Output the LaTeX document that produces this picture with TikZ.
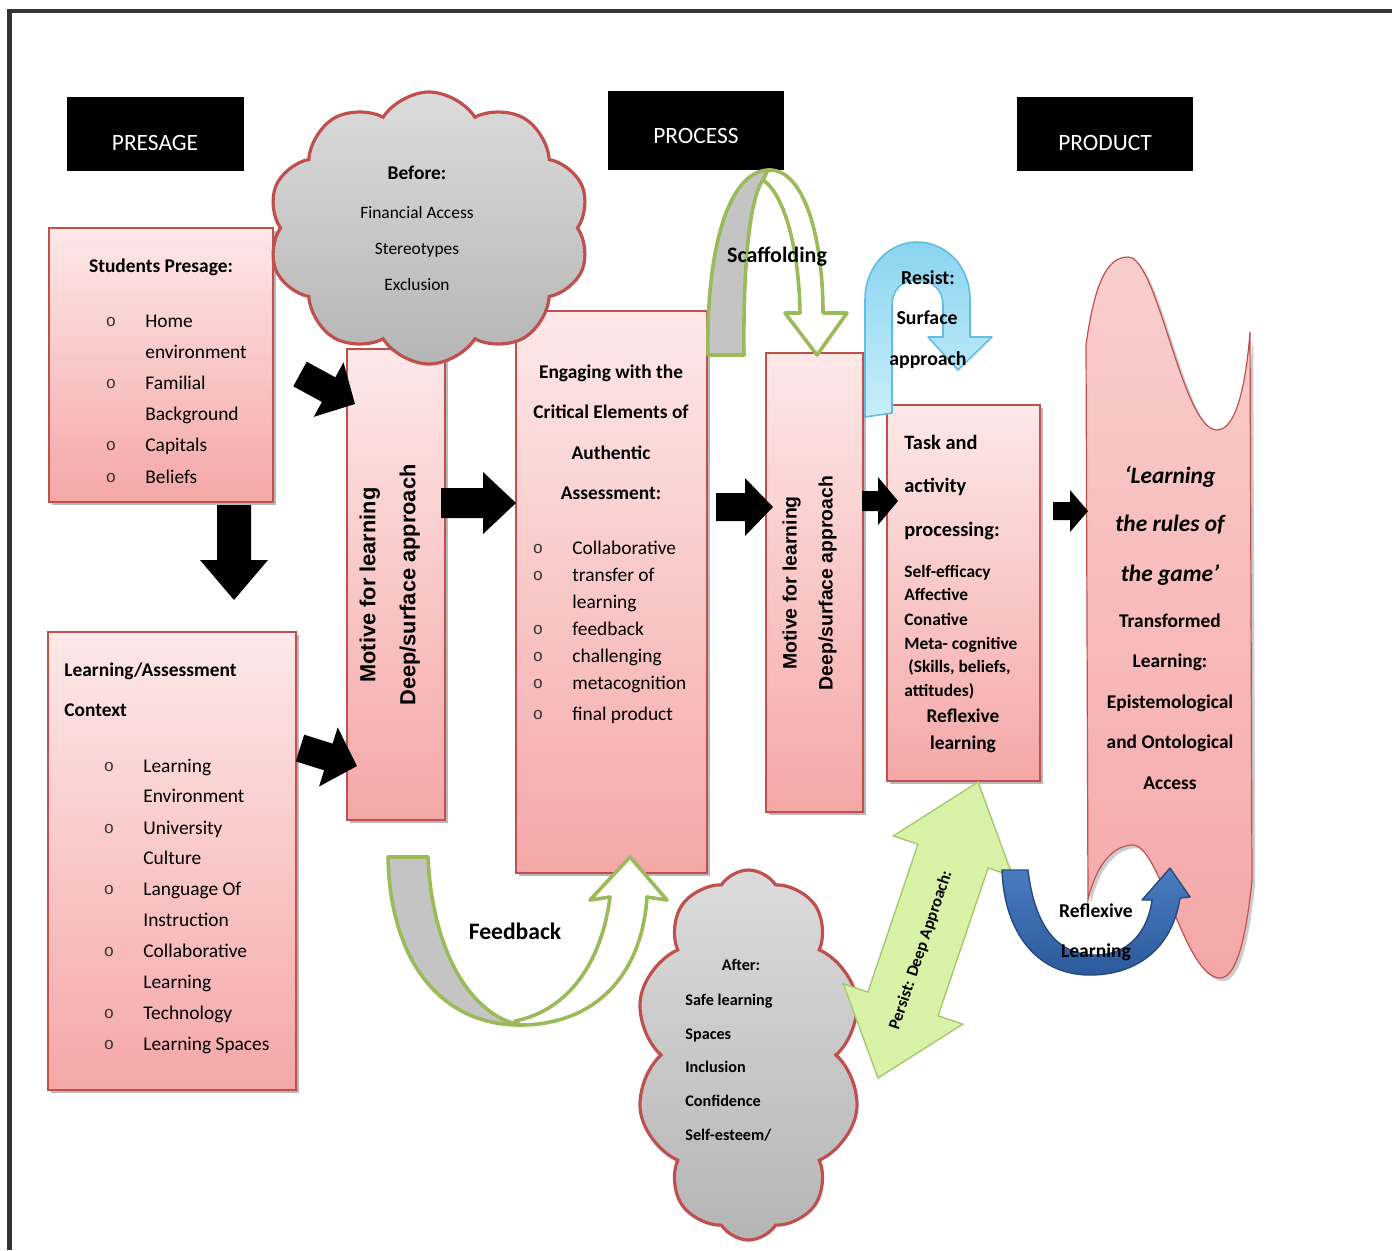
\documentclass[tikz,border=0pt]{standalone}
\usepackage{fontspec}
\setmainfont{Carlito}
\newfontfamily\arialfont{Liberation Sans}
\newfontfamily\bulletfont{Liberation Mono}
\usetikzlibrary{shapes.symbols,shadows,calc}

\definecolor{pinktop}{HTML}{FDE8E8}
\definecolor{pinkbot}{HTML}{F5A7A7}
\definecolor{boxred}{HTML}{C0504D}
\definecolor{ogreen}{HTML}{9BBB59}
\definecolor{lgreen}{HTML}{D8F2A8}
\definecolor{lgreenedge}{HTML}{A8C870}
\definecolor{cyantop}{HTML}{8AD4F0}
\definecolor{cyanbot}{HTML}{C9EEFA}
\definecolor{cyanedge}{HTML}{62BEDF}
\definecolor{bluetop}{HTML}{4A7CC0}
\definecolor{bluebot}{HTML}{2C5A9C}
\definecolor{blueedge}{HTML}{27497C}
\definecolor{framegray}{HTML}{333333}
\definecolor{backgray}{HTML}{C4C4C4}

\newcommand\fsz[1]{\fontsize{#1}{#1}\selectfont}

% solid block arrow from tail #1 to tip #2:
% shaft half width #3, head length #4, head half width #5 (px units)
\newcommand\blockarrow[5]{%
  \path let \p1=(#1), \p2=(#2) in
    \pgfextra{%
      \pgfmathsetmacro\baang{atan2(\y2-\y1,\x2-\x1)}%
      \pgfmathsetmacro\balen{2*veclen(\x2-\x1,\y2-\y1)}%
      \global\let\baang\baang\global\let\balen\balen};
  \pgfmathsetmacro\babase{\balen-#4}%
  \fill[black, shift={(#1)}, rotate=\baang]
    (0,-#3) -- (\babase,-#3) -- (\babase,-#5) -- (\balen,0)
    -- (\babase,#5) -- (\babase,#3) -- (0,#3) -- cycle;
}

\begin{document}
\begin{tikzpicture}[x=0.5pt,y=-0.5pt,
  pinkbox/.style={draw=boxred, line width=0.8pt, top color=pinktop, bottom color=pinkbot,
    inner sep=0pt, outer sep=0pt, anchor=north west,
    drop shadow={shadow xshift=1.6pt, shadow yshift=-1.6pt, fill=black, opacity=0.28}},
  hdrbox/.style={fill=black, inner sep=0pt},
  hdrtxt/.style={text=white, font=\fsz{11.7}, inner sep=0pt},
  lt/.style={inner sep=0pt, anchor=west, text height=1.45ex, text depth=0.3ex, font=\fsz{9.7}},
  ltb/.style={lt, font=\fsz{9.7}\bfseries},
  ct/.style={lt, anchor=center},
  ctb/.style={ltb, anchor=center},
  bul/.style={inner sep=0pt, font=\bulletfont\fsz{8.5}, text=black!80},
  vtxt/.style={inner sep=0pt, rotate=90, text height=1.45ex, text depth=0.3ex},
  cloudbox/.style={cloud, cloud puffs=10, cloud puff arc=115, cloud ignores aspect,
    draw=boxred, line width=1.6pt, top color=gray!28, middle color=gray!10,
    bottom color=gray!58, inner sep=0pt},
  greenedge/.style={draw=ogreen, line width=1.8pt, line join=round}]

\useasboundingbox (0,0) rectangle (1392,1250);

% page frame
\draw[framegray, line width=2.3pt, line join=miter] (9.5,1250) -- (9.5,11) -- (1392,11);

% stage headers
\node[hdrbox, minimum width=88.5pt, minimum height=37pt] (hpre) at (155.5,134) {};
\node[hdrbox, minimum width=88pt, minimum height=39.5pt] (hproc) at (696,130.5) {};
\node[hdrbox, minimum width=88pt, minimum height=37pt] (hprod) at (1105,134) {};

% content boxes
\node[pinkbox, minimum width=112pt, minimum height=137pt] (stud) at (49,228) {};
\node[pinkbox, minimum width=124pt, minimum height=229pt] (ctx) at (48,632) {};
\node[pinkbox, minimum width=49pt, minimum height=235.5pt] (m1) at (347,349) {};
\node[pinkbox, minimum width=95.5pt, minimum height=281pt] (eng) at (516,311) {};
\node[pinkbox, minimum width=48.5pt, minimum height=229.5pt] (m2) at (766,353) {};
\node[pinkbox, minimum width=76.5pt, minimum height=188pt] (task) at (887,405) {};

% product banner
\path[draw=boxred, line width=0.6pt, top color=pinktop!60!pinkbot, bottom color=pinkbot,
      drop shadow={shadow xshift=1.6pt, shadow yshift=-1.6pt, fill=black, opacity=0.2}]
  (1086,345) .. controls (1095,280) and (1108,257) .. (1128,257)
  .. controls (1158,257) and (1182,430) .. (1217,430)
  .. controls (1236,430) and (1246,385) .. (1250,332)
  -- (1252,880) .. controls (1246,940) and (1236,978) .. (1220,978)
  .. controls (1185,978) and (1160,845) .. (1133,845)
  .. controls (1113,845) and (1096,865) .. (1088,900) -- cycle;

% black flow arrows
\coordinate (aS1) at (300,374);  \coordinate (aE1) at (355,404);
\coordinate (aS2) at (300,748);  \coordinate (aE2) at (357,766);
\coordinate (aS3) at (234,505);  \coordinate (aE3) at (234,600);
\coordinate (aS4) at (441,503);  \coordinate (aE4) at (516,503);
\coordinate (aS5) at (716,507);  \coordinate (aE5) at (773,507);
\coordinate (aS6) at (862,501);  \coordinate (aE6) at (898,501);
\coordinate (aS7) at (1053,511); \coordinate (aE7) at (1088,511);
\blockarrow{aS1}{aE1}{14}{30}{31}
\blockarrow{aS2}{aE2}{14}{30}{31}
\blockarrow{aS3}{aE3}{17}{40}{34}
\blockarrow{aS4}{aE4}{15}{33}{31}
\blockarrow{aS5}{aE5}{14}{28}{29}
\blockarrow{aS6}{aE6}{10}{20}{24}
\blockarrow{aS7}{aE7}{9}{18}{21}

% "before" cloud
\node[cloudbox, minimum width=161pt, minimum height=136pt] (before) at (429,228) {};

% scaffolding arrow: back band, then front band with head
\path[greenedge, fill=backgray]
  (708,355) .. controls (706,250) and (728,172) .. (768,170)
  -- (763,180) .. controls (748,200) and (743,280) .. (744,355) -- cycle;
\path[greenedge, fill=white]
  (768,170) .. controls (805,168) and (823,240) .. (823,313)
  -- (847,313) -- (817,355) -- (785,313) -- (800,313)
  .. controls (799,250) and (785,195) .. (763,180) -- cycle;

% resist arrow
\path[draw=cyanedge, line width=0.8pt, top color=cyantop, bottom color=cyanbot, line join=round]
  (865,417) -- (865,300) .. controls (865,265) and (890,242) .. (917,242)
  .. controls (945,242) and (970,265) .. (970,300) -- (970,337)
  -- (992,337) -- (958,370) -- (928,337) -- (943,337) -- (943,305)
  .. controls (943,290) and (932,280) .. (917,280)
  .. controls (902,280) and (892,290) .. (892,305) -- (892,413) -- cycle;

% feedback arrow: back band, then front band with head
\path[greenedge, fill=backgray]
  (388,857) -- (428,857) .. controls (432,950) and (470,1015) .. (520,1025)
  .. controls (440,1025) and (390,960) .. (388,857) -- cycle;
\path[greenedge, fill=white]
  (520,1025) .. controls (595,1025) and (642,975) .. (647,897)
  -- (667,900) -- (630,857) -- (590,900) -- (610,897)
  .. controls (602,960) and (570,1010) .. (515,1021) -- cycle;

% "after" cloud
\node[cloudbox, minimum width=113.5pt, minimum height=185pt] (after) at (748.5,1055) {};

% persist: deep approach double arrow
\path[draw=lgreenedge, line width=0.7pt, fill=lgreen, line join=miter]
  (978,782) -- (1012.7,876.3) -- (988.1,867.9) -- (938.1,1015.7) -- (962.7,1024.1)
  -- (878,1078) -- (843.3,983.7) -- (867.9,992.1) -- (917.9,844.3) -- (893.3,835.9) -- cycle;

% reflexive learning arrow
\path[draw=blueedge, line width=0.7pt, top color=bluetop, bottom color=bluebot, line join=round]
  (1002,870) -- (1028,870) .. controls (1035,930) and (1060,955) .. (1095,955)
  .. controls (1130,955) and (1148,930) .. (1152,900)
  -- (1142,900) -- (1170,868) -- (1190,897) -- (1180,898)
  .. controls (1172,950) and (1135,975) .. (1090,975)
  .. controls (1035,975) and (1004,930) .. (1002,870) -- cycle;

% ---------- texts ----------
\node[hdrtxt] (tpre) at (155,143) {PRESAGE};
\node[hdrtxt] (tproc) at (696,136) {PROCESS};
\node[hdrtxt] (tprod) at (1105,143) {PRODUCT};

% students presage
\node[ctb] (studh) at (161,267) {Students Presage:};
\foreach \yy [count=\i] in {322,384,446,478}
  \node[bul] (sb\i) at (111,\yy) {o};
\foreach \tt/\yy [count=\i] in {Home/322,environment/353,Familial/384,Background/415,Capitals/446,Beliefs/478}
  \node[lt] (st\i) at (145,\yy) {\tt};

% learning / assessment context
\node[ltb] (ctxh1) at (64,671) {Learning/Assessment};
\node[ltb] (ctxh2) at (64,711) {Context};
\foreach \yy [count=\i] in {767,829,890,952,1014,1045}
  \node[bul] (cb\i) at (109,\yy) {o};
\foreach \tt/\yy [count=\i] in {Learning/767,Environment/797,University/829,Culture/859,Language Of/890,Instruction/921,Collaborative/952,Learning/983,Technology/1014,Learning Spaces/1045}
  \node[lt] (ct\i) at (143,\yy) {\tt};

% motive boxes
\node[vtxt, font=\arialfont\bfseries\fsz{10.9}] (m1a) at (370,585) {Motive for learning};
\node[vtxt, font=\arialfont\bfseries\fsz{10.9}] (m1b) at (410,585) {Deep/surface approach};
\node[vtxt, font=\arialfont\bfseries\fsz{9.7}] (m2a) at (791,583) {Motive for learning};
\node[vtxt, font=\arialfont\bfseries\fsz{9.7}] (m2b) at (827,583) {Deep/surface approach};

% engaging box
\foreach \tt/\yy [count=\i] in {Engaging with the/373,Critical Elements of/413,Authentic/454,Assessment:/494}
  \node[ctb] (eh\i) at (611,\yy) {\tt};
\foreach \yy [count=\i] in {549,576,630,657,684,715}
  \node[bul] (eb\i) at (538,\yy) {o};
\foreach \tt/\yy [count=\i] in {Collaborative/549,transfer of/576,learning/603,feedback/630,challenging/657,metacognition/684,final product/715}
  \node[lt] (et\i) at (572,\yy) {\tt};

% task box
\foreach \tt/\yy [count=\i] in {Task and/444,activity/487,processing:/531}
  \node[lt, font=\fsz{10.2}\bfseries] (th\i) at (904,\yy) {\tt};
\foreach \tt/\yy [count=\i] in {Self-efficacy/572,Affective/595,Conative/620,Meta- cognitive/644,{\ (Skills, beliefs,}/667,attitudes)/691}
  \node[lt, font=\fsz{8.7}\bfseries] (tl\i) at (904,\yy) {\tt};
\node[ctb] (tr1) at (963,717) {Reflexive};
\node[ctb] (tr2) at (963,744) {learning};

% before cloud
\node[ctb] (bf0) at (417,174) {Before:};
\foreach \tt/\yy [count=\i] in {Financial Access/213,Stereotypes/249,Exclusion/285}
  \node[ct, font=\fsz{8.7}] (bf\i) at (417,\yy) {\tt};

% after cloud
\node[ct, font=\fsz{8.1}\bfseries] (af0) at (741,965) {After:};
\foreach \tt/\yy [count=\i] in {Safe learning/1000,Spaces/1034,Inclusion/1067,Confidence/1101,{Self-esteem/}/1135}
  \node[lt, font=\fsz{8.1}\bfseries] (af\i) at (685,\yy) {\tt};

% arrow labels
\node[ct, font=\fsz{11}\bfseries] (lscaf) at (777,257) {Scaffolding};
\node[ct, font=\fsz{11.8}\bfseries] (lfeed) at (515,934) {Feedback};
\node[ct, font=\fsz{9.9}\bfseries] (lres1) at (928,279) {Resist:};
\node[ct, font=\fsz{9.9}\bfseries] (lres2) at (927,319) {Surface};
\node[ct, font=\fsz{9.9}\bfseries] (lres3) at (928,360) {approach};
\node[ct, font=\fsz{9.8}\bfseries] (lrefl1) at (1096,912) {Reflexive};
\node[ct, font=\fsz{9.8}\bfseries] (lrefl2) at (1096,952) {Learning};
\node[inner sep=0pt, rotate=71.3, font=\fsz{8.3}\bfseries] (lpers) at (921,950) {Persist: Deep Approach:};

% product banner
\foreach \tt/\yy [count=\i] in {‘Learning/478,the rules of/526,the game’/576}
  \node[ct, font=\fsz{11.7}\bfseries\itshape] (pi\i) at (1170,\yy) {\tt};
\foreach \tt/\yy [count=\i] in {Transformed/622,Learning:/662,Epistemological/703,and Ontological/743,Access/784}
  \node[ctb] (pt\i) at (1170,\yy) {\tt};

\end{tikzpicture}
\end{document}
